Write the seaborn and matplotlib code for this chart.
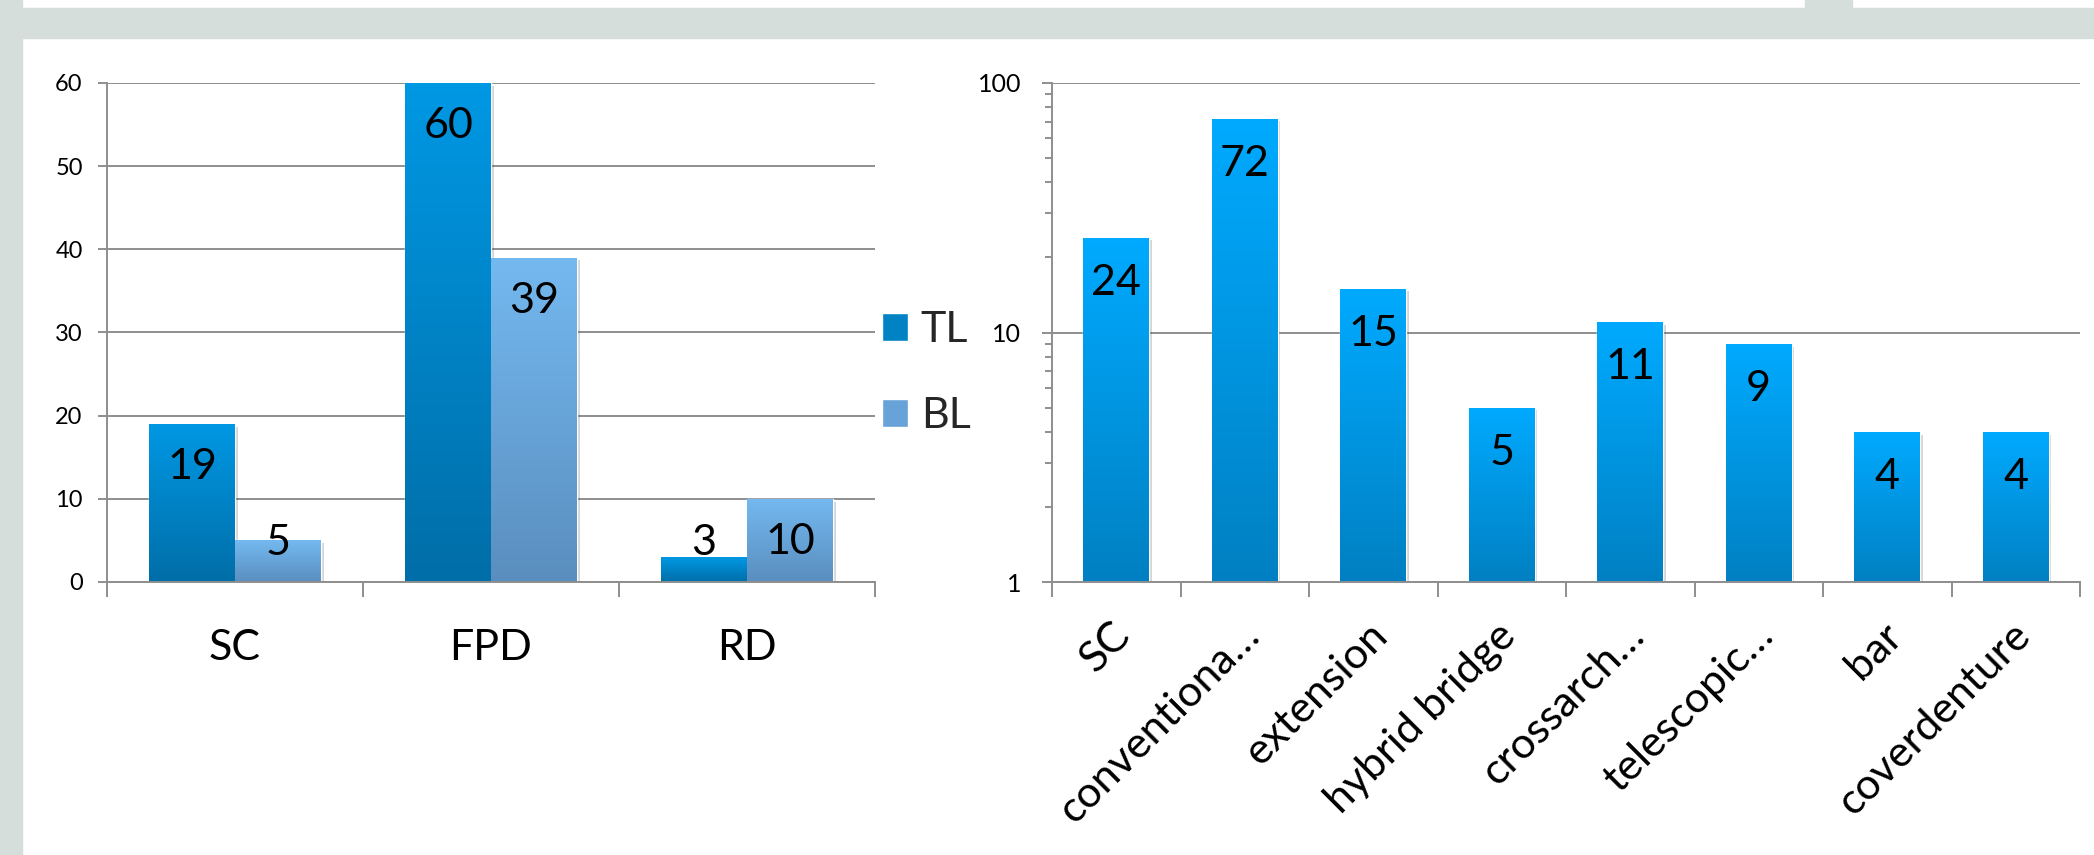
import numpy as np
import pandas as pd
import matplotlib.pyplot as plt
import matplotlib.patches as mpatches
import matplotlib.patheffects as pe
from matplotlib.colors import LinearSegmentedColormap
from matplotlib.ticker import FixedLocator, LogLocator, NullFormatter
from matplotlib.transforms import ScaledTranslation
import seaborn as sns

# left chart: TL / BL per group
groups = ["SC", "FPD", "RD"]
tl = [19, 60, 3]
bl = [5, 39, 10]

# right chart: counts per type (log axis)
types = ["SC", "conventiona\u2026", "extension", "hybrid bridge",
         "crossarch\u2026", "telescopic\u2026", "bar", "coverdenture"]
counts = [24, 72, 15, 5, 11, 9, 4, 4]

df_left = pd.DataFrame({
    "group": groups * 2,
    "n": tl + bl,
    "series": ["TL"] * len(groups) + ["BL"] * len(groups),
})
df_right = pd.DataFrame({"type": types, "n": counts})

sns.set_theme(style="white")
plt.rcParams["font.family"] = ["Lato", "DejaVu Sans"]

W, H = 2094, 855
fig = plt.figure(figsize=(W / 100, H / 100), dpi=100)
fig.patch.set_facecolor("white")

frame = "#d5dedb"
grid_c = "#8e8e8e"
big = 31
fig.patches.append(mpatches.Rectangle((0, 0), 22 / W, 1, transform=fig.transFigure,
                                      color=frame, zorder=0))
fig.patches.append(mpatches.Rectangle((0, 1 - 38 / H), 1, 30 / H, transform=fig.transFigure,
                                      color=frame, zorder=0))
fig.patches.append(mpatches.Rectangle((1805 / W, 1 - 8 / H), 47 / W, 8 / H,
                                      transform=fig.transFigure, color=frame, zorder=0))

ax1 = fig.add_axes([107 / W, 1 - 582 / H, 768 / W, 499 / H])
ax2 = fig.add_axes([1052 / W, 1 - 582 / H, 1028 / W, 499 / H])
ax2.set_yscale("log")

sns.barplot(data=df_left, x="group", y="n", hue="series", width=0.67, saturation=1,
            palette={"TL": "#0084c8", "BL": "#66a4da"}, legend=False, ax=ax1)
sns.barplot(data=df_right, x="type", y="n", width=0.51, saturation=1,
            color="#0096e0", ax=ax2)

ax1.set_ylim(0, 60)
ax1.set_xlim(-0.5, len(groups) - 0.5)
ax2.set_ylim(1, 100)
ax2.set_xlim(-0.5, len(types) - 0.5)


def shade(ax, bars, top, bottom):
    cmap = LinearSegmentedColormap.from_list("g", [bottom, top])
    grad = np.linspace(0, 1, 256).reshape(-1, 1)
    ax.set_autoscale_on(False)
    to_axes = ax.transData + ax.transAxes.inverted()
    floor = ax.get_ylim()[0]
    for bar in bars:
        x0 = bar.get_x()
        x1 = x0 + bar.get_width()
        y0 = max(bar.get_y(), floor)
        y1 = bar.get_y() + bar.get_height()
        (a0, b0), (a1, b1) = to_axes.transform([(x0, y0), (x1, y1)])
        im = ax.imshow(grad, cmap=cmap, origin="lower", aspect="auto",
                       extent=(a0, a1, b0, b1), transform=ax.transAxes,
                       zorder=bar.get_zorder() + 0.1, interpolation="bilinear")
        im.set_clip_path(bar)
        bar.set_path_effects([pe.SimplePatchShadow(offset=(2, -2), shadow_rgbFace="k",
                                                   alpha=0.18), pe.Normal()])


shade(ax1, ax1.containers[0], "#0098e4", "#006ea8")
shade(ax1, ax1.containers[1], "#74b9f0", "#5a8ebf")
shade(ax2, ax2.patches, "#00aaff", "#0080c2")

# restore limits after images
ax1.set_ylim(0, 60)
ax1.set_xlim(-0.5, len(groups) - 0.5)
ax2.set_ylim(1, 100)
ax2.set_xlim(-0.5, len(types) - 0.5)

# value labels
for cont, vals in zip(ax1.containers, [tl, bl]):
    for bar, v in zip(cont, vals):
        ax1.text(bar.get_x() + bar.get_width() / 2, max(v - 5.2, 4.7), str(v),
                 ha="center", va="center", fontsize=big, color="black", zorder=5)
for bar, v in zip(ax2.patches, counts):
    ax2.annotate(str(v), (bar.get_x() + bar.get_width() / 2, v), xytext=(0, -32.4),
                 textcoords="offset points", ha="center", va="center",
                 fontsize=big, color="black", zorder=5)

for ax in (ax1, ax2):
    for s in ("top", "right"):
        ax.spines[s].set_visible(False)
    for s in ("left", "bottom"):
        ax.spines[s].set_color(grid_c)
        ax.spines[s].set_linewidth(1.4)
    ax.yaxis.grid(True, which="major", color=grid_c, linewidth=1.4)
    ax.set_axisbelow(True)
    ax.set_xlabel("")
    ax.set_ylabel("")
    n = len(ax.get_xticks())
    ax.xaxis.set_minor_locator(FixedLocator(np.arange(-0.5, n)))
    ax.tick_params(axis="x", which="minor", length=10.8, width=1.4, color=grid_c, bottom=True)
    ax.tick_params(axis="x", which="major", length=0, colors="black")

ax1.set_yticks(range(0, 61, 10))
ax1.tick_params(axis="y", which="major", left=True, length=6.5, width=1.4, color=grid_c,
                labelsize=17, pad=11, labelcolor="black")
ax1.tick_params(axis="x", which="major", labelsize=big, pad=34)

ax2.yaxis.set_major_locator(FixedLocator([1, 10, 100]))
ax2.set_yticklabels(["1", "10", "100"])
ax2.yaxis.set_minor_locator(LogLocator(base=10, subs=np.arange(2, 10)))
ax2.yaxis.set_minor_formatter(NullFormatter())
ax2.tick_params(axis="y", which="major", left=True, length=7.2, width=1.4, color=grid_c,
                labelsize=18, pad=15, labelcolor="black")
ax2.tick_params(axis="y", which="minor", left=True, length=5, width=1.4, color=grid_c)
ax2.tick_params(axis="x", which="major", labelsize=big, pad=34)

shift = ScaledTranslation(8 / 100, 0, fig.dpi_scale_trans)
for lab in ax2.get_xticklabels():
    lab.set_rotation(45)
    lab.set_rotation_mode("anchor")
    lab.set_ha("right")
    lab.set_va("center")
    lab.set_transform(lab.get_transform() + shift)

handles = [mpatches.Patch(facecolor="#0082c4", label="TL"),
           mpatches.Patch(facecolor="#67a3d8", label="BL")]
fig.legend(handles=handles, loc="center left", bbox_to_anchor=(882 / W, 1 - 373 / H),
           frameon=False, fontsize=big, handlelength=0.6, handleheight=0.62,
           handletextpad=0.3, labelspacing=1.12, borderpad=0, borderaxespad=0)

fig.savefig("out.png", dpi=100)
